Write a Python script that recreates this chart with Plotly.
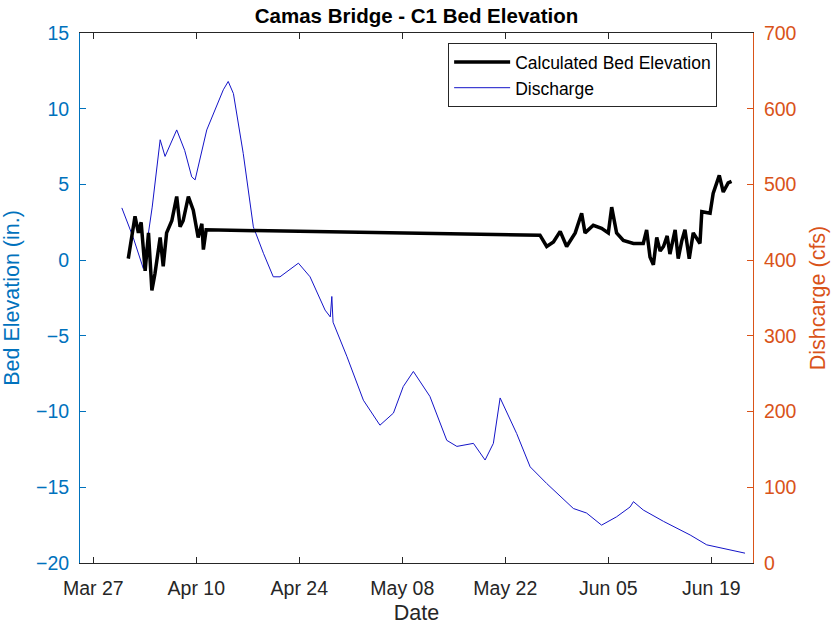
import plotly.graph_objects as go

# Discharge (cfs), right axis
discharge_dates = [
    "2017-03-30 21:00", "2017-04-01 10:00", "2017-04-02 19:00", "2017-04-04 00:00", "2017-04-05 02:00",
    "2017-04-05 18:00", "2017-04-07 08:00", "2017-04-08 10:00", "2017-04-09 09:00", "2017-04-09 20:00",
    "2017-04-11 10:00", "2017-04-12 07:00", "2017-04-13 16:00", "2017-04-14 08:00", "2017-04-15 01:00",
    "2017-04-16 09:00", "2017-04-17 18:00", "2017-04-19 03:00", "2017-04-20 11:00", "2017-04-21 09:00",
    "2017-04-23 21:00", "2017-04-25 11:00", "2017-04-27 12:00", "2017-04-28 05:00", "2017-04-28 10:00",
    "2017-04-28 14:00", "2017-04-30 11:00", "2017-05-02 17:00", "2017-05-04 23:00", "2017-05-06 19:00",
    "2017-05-08 03:00", "2017-05-09 12:00", "2017-05-11 18:00", "2017-05-14 01:00", "2017-05-15 10:00",
    "2017-05-17 16:00", "2017-05-19 06:00", "2017-05-20 09:00", "2017-05-21 07:00", "2017-05-23 13:00",
    "2017-05-25 09:00", "2017-05-27 15:00", "2017-05-31 06:00", "2017-06-02 01:00", "2017-06-04 02:00",
    "2017-06-06 03:00", "2017-06-07 23:00", "2017-06-08 10:00", "2017-06-09 18:00", "2017-06-12 12:00",
    "2017-06-16 03:00", "2017-06-18 09:00", "2017-06-21 13:00", "2017-06-23 14:00",
]
discharge_cfs = [
    469, 430, 389, 470, 559,
    537, 572, 545, 510, 506,
    572, 592, 625, 636, 620,
    541, 444, 409, 378, 378,
    396, 378, 334, 325, 352,
    318, 273, 215, 182, 198,
    233, 253, 220, 162, 154,
    158, 136, 158, 218, 171,
    127, 105, 72, 66, 50,
    61, 74, 81, 70, 55,
    37, 24, 17, 13,
]

# Calculated bed elevation (in.), left axis
bed_dates = [
    "2017-03-31 18:00", "2017-04-01 16:00", "2017-04-02 03:00", "2017-04-02 12:00", "2017-04-03 01:00",
    "2017-04-03 12:00", "2017-04-03 23:00", "2017-04-04 09:00", "2017-04-05 02:00", "2017-04-05 12:00",
    "2017-04-05 23:00", "2017-04-06 16:00", "2017-04-07 08:00", "2017-04-07 19:00", "2017-04-08 05:00",
    "2017-04-08 22:00", "2017-04-09 14:00", "2017-04-10 06:00", "2017-04-10 18:00", "2017-04-10 23:00",
    "2017-04-11 08:00", "2017-05-26 17:00", "2017-05-27 15:00", "2017-05-28 13:00", "2017-05-29 11:00",
    "2017-05-30 08:00", "2017-05-31 12:00", "2017-06-01 09:00", "2017-06-01 20:00", "2017-06-02 23:00",
    "2017-06-04 02:00", "2017-06-05 00:00", "2017-06-05 11:00", "2017-06-06 03:00", "2017-06-07 01:00",
    "2017-06-08 10:00", "2017-06-09 18:00", "2017-06-10 05:00", "2017-06-10 16:00", "2017-06-11 03:00",
    "2017-06-11 14:00", "2017-06-12 01:00", "2017-06-12 12:00", "2017-06-13 00:00", "2017-06-13 09:00",
    "2017-06-14 02:00", "2017-06-14 12:00", "2017-06-15 00:00", "2017-06-15 10:00", "2017-06-16 00:00",
    "2017-06-16 13:00", "2017-06-17 11:00", "2017-06-17 17:00", "2017-06-18 20:00", "2017-06-19 06:00",
    "2017-06-20 02:00", "2017-06-20 15:00", "2017-06-21 07:00", "2017-06-21 18:00",
]
bed_elev = [
    0.1, 2.9, 1.8, 2.5, -0.7,
    1.8, -2.0, -0.9, 1.5, -0.4,
    1.8, 2.6, 4.2, 2.2, 2.6,
    4.2, 3.3, 1.5, 2.4, 0.7,
    2.0, 1.65, 0.9, 1.2, 1.9,
    0.9, 1.8, 3.1, 1.8, 2.3,
    2.1, 1.8, 3.5, 1.8, 1.3,
    1.1, 1.1, 2.0, 0.2, -0.3,
    1.5, 0.6, 0.9, 1.6, 0.4,
    2.0, 0.1, 1.3, 2.0, 0.1,
    1.8, 1.1, 3.2, 3.1, 4.4,
    5.6, 4.5, 5.1, 5.2,
]

tick_dates = ["2017-03-27", "2017-04-10", "2017-04-24", "2017-05-08",
              "2017-05-22", "2017-06-05", "2017-06-19"]
left_ticks = [15, 10, 5, 0, -5, -10, -15, -20]
right_ticks = [700, 600, 500, 400, 300, 200, 100, 0]

blue_axis = "#0072BD"
orange_axis = "#D95319"
font_family = "Liberation Sans, Arial, sans-serif"

fig = go.Figure()

# bed elevation goes on the overlaying axis so it is drawn above the discharge
fig.add_trace(go.Scatter(
    x=bed_dates, y=bed_elev, yaxis="y2", mode="lines",
    line=dict(color="black", width=3.5),
    name="Calculated Bed Elevation"
))

fig.add_trace(go.Scatter(
    x=discharge_dates, y=discharge_cfs, yaxis="y", mode="lines",
    line=dict(color="#1414C8", width=1),
    name="Discharge"
))

fig.update_layout(
    width=835,
    height=628,
    margin=dict(l=80, r=82, t=33, b=65),
    paper_bgcolor="white",
    plot_bgcolor="white",
    font=dict(family=font_family, size=19.5, color="#262626"),
    title=dict(
        text="<b>Camas Bridge - C1 Bed Elevation</b>",
        x=0.5, xref="paper", xanchor="center",
        y=0.975, yref="container", yanchor="middle",
        font=dict(size=20.5, color="black")
    ),
    showlegend=True,
    legend=dict(
        x=0.547, y=0.981, xanchor="left", yanchor="top",
        bgcolor="white", bordercolor="#262626", borderwidth=1,
        font=dict(size=17.5, color="black"),
        tracegroupgap=0, itemwidth=56
    ),
    xaxis=dict(
        type="date",
        range=["2017-03-25 04:30", "2017-06-24 16:00"],
        tickvals=tick_dates,
        tickformat="%b %d",
        ticks="inside", ticklen=6, tickcolor="#262626",
        ticklabelstandoff=8,
        showline=True, linecolor="#262626", linewidth=1,
        mirror="ticks", showgrid=False, zeroline=False,
        automargin=False,
        title=dict(text="Date", font=dict(size=21.5), standoff=6),
        tickfont=dict(size=19.5, color="#262626")
    ),
    yaxis=dict(
        side="right",
        range=[0, 700],
        tickvals=right_ticks,
        ticks="inside", ticklen=6, tickcolor=orange_axis,
        ticklabelstandoff=6,
        showline=True, linecolor=orange_axis, linewidth=1,
        showgrid=False, zeroline=False, automargin=False,
        tickfont=dict(size=19.5, color=orange_axis),
        title=dict(text="Dishcarge (cfs)", font=dict(size=21.5, color=orange_axis), standoff=14)
    ),
    yaxis2=dict(
        side="left", overlaying="y",
        range=[-20, 15],
        tickvals=left_ticks,
        ticks="inside", ticklen=6, tickcolor=blue_axis,
        ticklabelstandoff=6,
        showline=True, linecolor=blue_axis, linewidth=1,
        showgrid=False, zeroline=False, automargin=False,
        tickfont=dict(size=19.5, color=blue_axis),
        title=dict(text="Bed Elevation (in.)", font=dict(size=21.5, color=blue_axis), standoff=22)
    ),
)

# drop the page's default body margin so the figure sits at the window corner
fig.write_html(
    "out.html",
    config={"displayModeBar": False},
    post_script="document.body.style.margin = '0';"
)
